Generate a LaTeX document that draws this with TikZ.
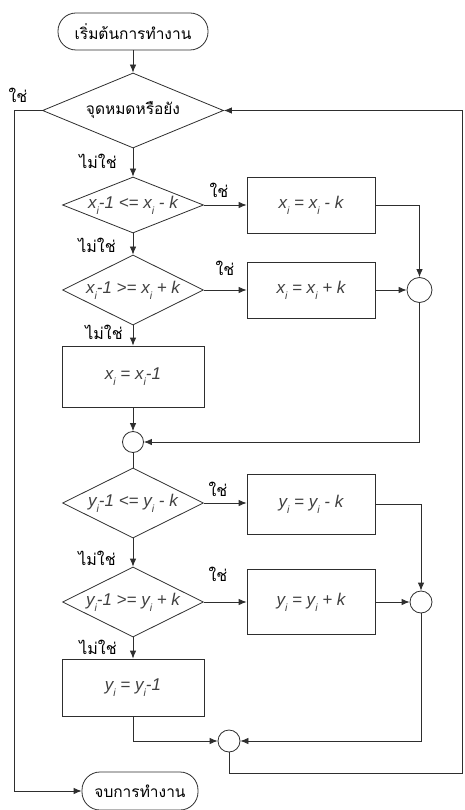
\documentclass[tikz,border=0pt]{standalone}
\usepackage{fontspec}
\setmainfont{Liberation Sans}
\newfontfamily\thaifont[Script=Thai]{Loma}
\usetikzlibrary{shapes.geometric,arrows.meta}
\definecolor{lc}{HTML}{2E2E2E}
\definecolor{tc}{HTML}{404040}
\newcommand\sbi{\raisebox{-0.65ex}{\fontsize{10.5}{10.5}\selectfont i}}
\newcommand\mfont{\itshape\fontsize{17}{17}\selectfont\color{tc}}
\begin{document}
\begin{tikzpicture}[x=1pt,y=-1pt,
  line/.style={draw=lc, line width=0.8pt},
  arr/.style={line, -{Latex[length=8pt,width=6.5pt]}},
  term/.style={draw=lc, line width=0.8pt, rectangle, rounded corners=18pt, inner sep=0pt, font=\thaifont\fontsize{15.5}{15.5}\selectfont},
  dec/.style={draw=lc, line width=0.8pt, shape=diamond, inner sep=0pt, minimum width=141pt},
  mtext/.style={font=\mfont, inner sep=0pt},
  stepbox/.style={draw=lc, line width=0.8pt, rectangle, inner sep=0pt},
  merge/.style={draw=lc, line width=0.8pt, circle, inner sep=0pt},
  lab/.style={font=\thaifont\fontsize{16}{16}\selectfont, inner sep=0pt}
]
\useasboundingbox (0,0) rectangle (464,810);
% terminals
\node[term, minimum width=150pt, minimum height=37pt] (start) at (133,31.5) {เริ่มต้นการทำงาน};
\node[term, minimum width=116pt, minimum height=38pt] (stop) at (140,791) {จบการทำงาน};
% decisions
\node[dec, minimum width=181pt, minimum height=75pt] (d1) at (133,110.5) {};
\node[font=\thaifont\fontsize{15.5}{15.5}\selectfont, inner sep=0pt] (t1) at (d1) {จุดหมดหรือยัง};
\node[dec, minimum height=56pt] (d2) at (133,205) {};
\node[mtext] (t2) at (d2) {x\sbi-1 <= x\sbi\ - k};
\node[dec, minimum height=70pt] (d3) at (133,290) {};
\node[mtext] (t3) at (d3) {x\sbi-1 >= x\sbi\ + k};
\node[dec, minimum height=70pt] (d4) at (133,503) {};
\node[mtext] (t4) at (d4) {y\sbi-1 <= y\sbi\ - k};
\node[dec, minimum height=70pt] (d5) at (133,602) {};
\node[mtext] (t5) at (d5) {y\sbi-1 >= y\sbi\ + k};
% process boxes
\node[stepbox, minimum width=128pt, minimum height=56pt, font=\mfont] (b1) at (311,205) {x\sbi\ = x\sbi\ - k};
\node[stepbox, minimum width=128pt, minimum height=56pt, font=\mfont] (b2) at (311,290) {x\sbi\ = x\sbi\ + k};
\node[stepbox, minimum width=142pt, minimum height=61pt, font=\mfont] (b3) at (133,376.5) {x\sbi\ = x\sbi-1};
\node[stepbox, minimum width=128pt, minimum height=60pt, font=\mfont] (b4) at (311,504) {y\sbi\ = y\sbi\ - k};
\node[stepbox, minimum width=128pt, minimum height=65pt, font=\mfont] (b5) at (311,602) {y\sbi\ = y\sbi\ + k};
\node[stepbox, minimum width=142pt, minimum height=57pt, font=\mfont] (b6) at (133,687.5) {y\sbi\ = y\sbi-1};
% merge circles
\node[merge, minimum size=25pt] (cA) at (419.5,290) {};
\node[merge, minimum size=21pt] (cB) at (133,442) {};
\node[merge, minimum size=22pt] (cC) at (421,602) {};
\node[merge, minimum size=22pt] (cD) at (229,741) {};
% helper coordinates
\coordinate (lx) at (14,110.5);
\coordinate (rb) at (462,773);
% connectors
\draw[arr] (start) -- (d1);
\draw[arr] (d1) -- (d2);
\draw[arr] (d2) -- (d3);
\draw[arr] (d3) -- (b3);
\draw[arr] (b3) -- (cB);
\draw[line] (cB) -- (d4);
\draw[arr] (d4) -- (d5);
\draw[arr] (d5) -- (b6);
\draw[arr] (d2.east) -- (b1.west);
\draw[arr] (d3.east) -- (b2.west);
\draw[arr] (d4.east) -- (d4.east -| b4.west);
\draw[arr] (d5.east) -- (b5.west);
\draw[arr] (b1.east) -| (cA.north);
\draw[arr] (b2.east) -- (cA.west);
\draw[arr] (cA.south) |- (cB.east);
\draw[arr] (b4.east) -| (cC.north);
\draw[arr] (b5.east) -- (cC.west);
\draw[arr] (b6.south) |- (cD.west);
\draw[arr] (cC.south) |- (cD.east);
\draw[arr] (cD.south) |- (rb) |- (d1.east);
\draw[arr] (d1.west) -- (lx) |- (stop.west);
% labels
\node[lab] at (18,95) {ใช่};
\node[lab] at (98,161) {ไม่ใช่};
\node[lab] at (219,190) {ใช่};
\node[lab] at (97,245) {ไม่ใช่};
\node[lab] at (225,268) {ใช่};
\node[lab] at (104,332) {ไม่ใช่};
\node[lab] at (218,489) {ใช่};
\node[lab] at (97,558) {ไม่ใช่};
\node[lab] at (218,574) {ใช่};
\node[lab] at (98,647) {ไม่ใช่};
\end{tikzpicture}
\end{document}
